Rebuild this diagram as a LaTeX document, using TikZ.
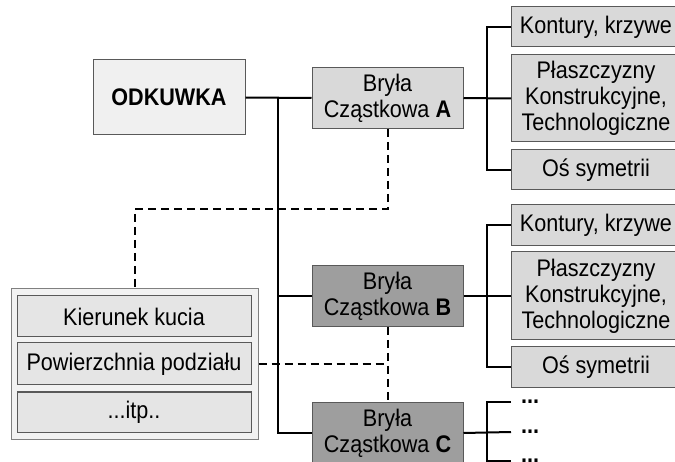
\documentclass[tikz,border=0pt]{standalone}
\usepackage{fontspec}
\setmainfont{Liberation Sans}[FakeStretch=0.9]

\begin{document}
\begin{tikzpicture}[x=1pt,y=-1pt,
  box/.style={rectangle,draw=black!65,line width=1pt,align=center,inner sep=0pt,
    font=\fontsize{24}{26}\selectfont},
  mainbox/.style={box,fill=black!6,minimum width=152pt,minimum height=75pt},
  partbox/.style={box,fill=black!15,minimum width=151pt,minimum height=61pt},
  darkbox/.style={partbox,fill=black!38},
  featbox/.style={box,fill=black!15,minimum width=169pt,anchor=west},
  groupbox/.style={box,fill=black!5,draw=black!50,minimum width=247pt,minimum height=150pt},
  itembox/.style={box,fill=black!10,minimum width=234pt},
  dotnode/.style={anchor=west,inner xsep=10pt,inner ysep=0pt,font=\fontsize{24}{26}\selectfont\bfseries},
  link/.style={line width=2pt},
  dlink/.style={line width=2pt,dash pattern=on 8pt off 5pt}]

  % Picture frame
  \useasboundingbox (0,0) rectangle (675,462);
  \clip (0,0) rectangle (675,462);

  % Main box and the three part solids
  \node[mainbox] (odk) at (169,97.5) {\textbf{ODKUWKA}};
  \node[partbox] (bA) at (387.5,98) {Bryła\\Cząstkowa \textbf{A}};
  \node[darkbox] (bB) at (387.5,296) {Bryła\\Cząstkowa \textbf{B}};
  \node[darkbox] (bC) at (387.5,433) {Bryła\\Cząstkowa \textbf{C}};

  % Features of solid A
  \node[featbox,minimum height=40pt] (kA) at (511,27) {Kontury, krzywe};
  \node[featbox,minimum height=87pt] (pA) at (511,98.5) {Płaszczyzny\\Konstrukcyjne,\\Technologiczne};
  \node[featbox,minimum height=40pt] (oA) at (511,170) {Oś symetrii};

  % Features of solid B
  \node[featbox,minimum height=41pt] (kB) at (511,225.5) {Kontury, krzywe};
  \node[featbox,minimum height=88pt] (pB) at (511,296) {Płaszczyzny\\Konstrukcyjne,\\Technologiczne};
  \node[featbox,minimum height=41pt] (oB) at (511,367.5) {Oś symetrii};

  % Features of solid C
  \node[dotnode] (dC1) at (511,402) {...};
  \node[dotnode] (dC2) at (511,432) {...};
  \node[dotnode] (dC3) at (511,461) {...};

  % Common operations
  \node[groupbox] (grp) at (134.5,364) {};
  \node[itembox,minimum height=41pt] (kier) at (134,316.5) {Kierunek kucia};
  \node[itembox,minimum height=42pt] (pow) at (134,364) {Powierzchnia podziału};
  \node[itembox,minimum height=40pt] (itp) at (134,412) {...itp..};

  % Junction points
  \coordinate (jA) at (278,97.5);
  \coordinate (rA) at (487,98);
  \coordinate (rB) at (487,296);
  \coordinate (rC) at (487,432);
  \coordinate (dA) at (134.5,209);

  % Tree connectors
  \draw[link] (odk.east) -- (bA.west);
  \draw[link] (jA) |- (bB.west);
  \draw[link] (jA) |- (bC.west);

  \draw[link] (bA.east) -- (pA.west);
  \draw[link] (kA.west) -| (rA) |- (oA.west);
  \draw[link] (bB.east) -- (pB.west);
  \draw[link] (kB.west) -| (rB) |- (oB.west);
  \draw[link] (bC.east) -- (dC2.west);
  \draw[link] (dC1.west) -| (rC) |- (dC3.west);

  % Dashed links to the common operations
  \draw[dlink] (bA.south) |- (dA) -- (grp.north);
  \draw[dlink] (bB.south) -- (bC.north);
  \draw[dlink] (pow -| grp.east) -- (pow -| bB.south);

\end{tikzpicture}
\end{document}
